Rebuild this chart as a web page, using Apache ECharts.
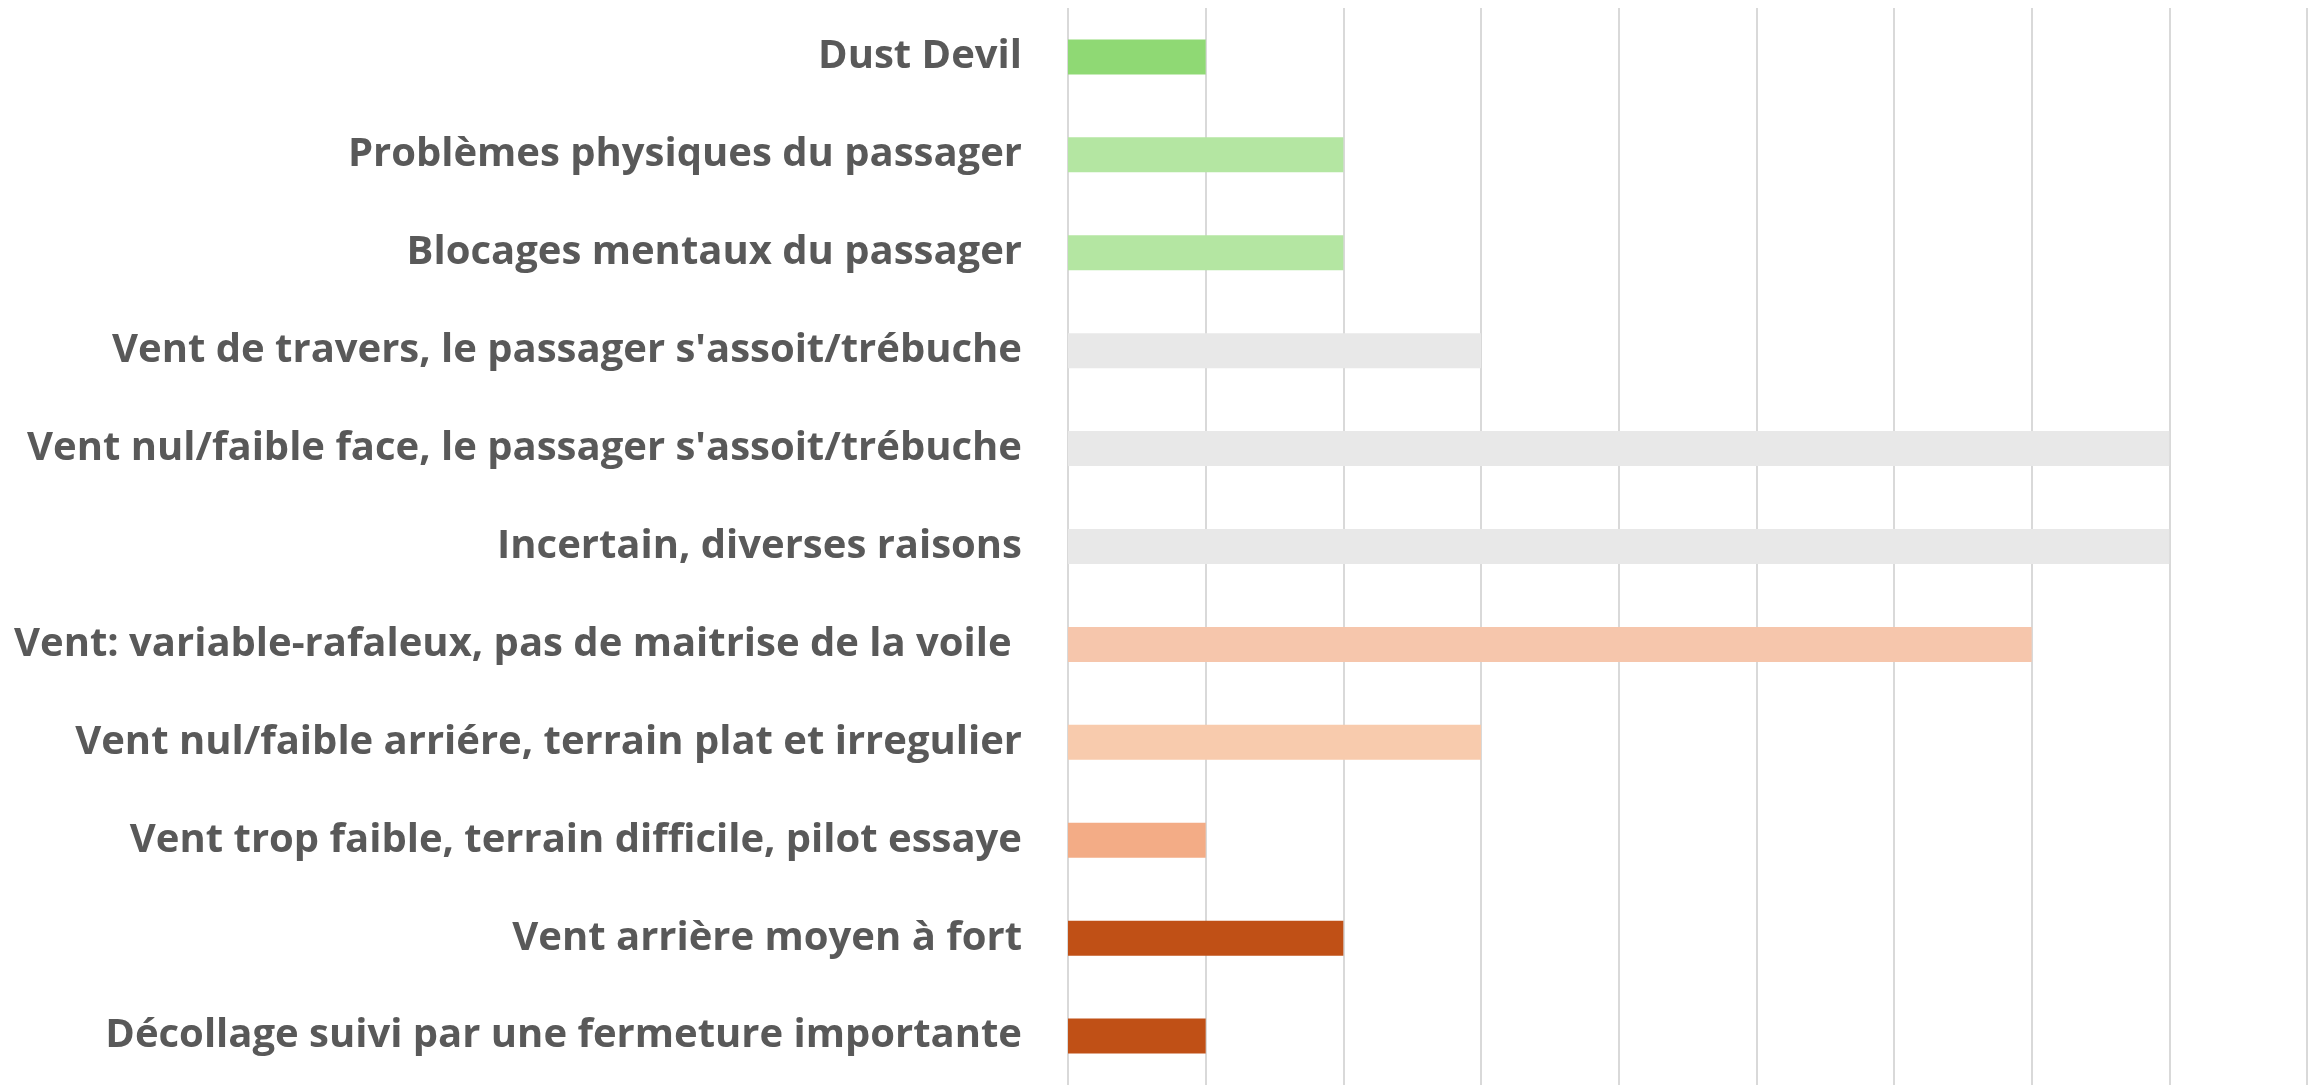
<!DOCTYPE html>
<html><head><meta charset="utf-8">
<script src="https://cdn.jsdelivr.net/npm/echarts@6/dist/echarts.min.js"></script>
<style>html,body{margin:0;padding:0;background:#fff}#c{width:2320px;height:1085px}</style>
</head><body><div id="c"></div>
<script>
const categories = [
  "Dust Devil",
  "Problèmes physiques du passager",
  "Blocages mentaux du passager",
  "Vent de travers, le passager s'assoit/trébuche",
  "Vent nul/faible face, le passager s'assoit/trébuche",
  "Incertain, diverses raisons",
  "Vent: variable-rafaleux, pas de maitrise de la voile ",
  "Vent nul/faible arriére, terrain plat et irregulier",
  "Vent trop faible, terrain difficile, pilot essaye",
  "Vent arrière moyen à fort",
  "Décollage suivi par une fermeture importante"
];
const values = [1, 2, 2, 3, 8, 8, 7, 3, 1, 2, 1];
const barColors = ["#8FD974", "#B4E6A2", "#B4E6A2", "#E8E8E8", "#E8E8E8", "#E8E8E8",
  "#F6C6AC", "#F8CBAD", "#F3AC86", "#C05016", "#C05016"];

const chart = echarts.init(document.getElementById('c'));
chart.setOption({
  animation: false,
  grid: {left: 1068, right: 13, top: 8, bottom: -1, containLabel: false},
  xAxis: {
    type: 'value', min: 0, max: 9, interval: 1,
    axisLabel: {show: false}, axisTick: {show: false}, axisLine: {show: false},
    splitLine: {show: true, lineStyle: {color: '#D9D9D9', width: 2}}
  },
  yAxis: {
    type: 'category', inverse: true, data: categories,
    axisLine: {show: false}, axisTick: {show: false},
    axisLabel: {
      margin: 46, color: '#595959', fontSize: 40, fontWeight: 'bold',
      fontFamily: "'Open Sans', sans-serif", verticalAlign: 'middle', lineHeight: 44
    }
  },
  series: [{
    type: 'bar', barWidth: 35,
    data: values.map((v, i) => ({value: v, itemStyle: {color: barColors[i]}}))
  }]
});
</script></body></html>
